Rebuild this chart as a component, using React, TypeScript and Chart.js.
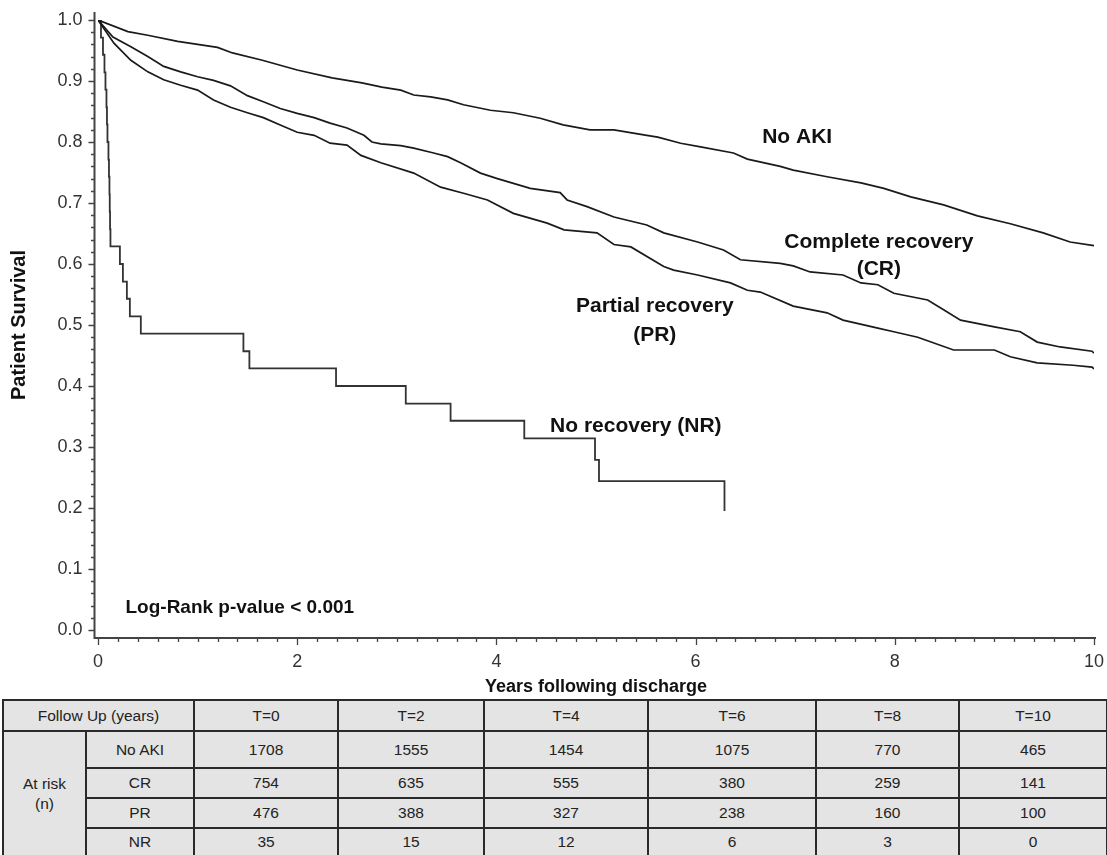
import React, { useEffect, useRef } from 'react';
import { Chart, registerables } from 'chart.js';

Chart.register(...registerables);

// ---------- Data ----------
const NO_AKI_T = [0, 0.3, 0.5, 0.8, 1.2, 1.35, 1.65, 2.0, 2.35, 2.65, 2.85, 3.04, 3.17, 3.34, 3.51, 3.67, 3.94, 4.17, 4.44, 4.67, 4.94, 5.18, 5.51, 5.62, 5.85, 6.05, 6.38, 6.52, 6.85, 6.98, 7.32, 7.66, 7.89, 8.16, 8.49, 8.83, 9.16, 9.49, 9.76, 10.0];
const NO_AKI_S = [1.0, 0.981, 0.975, 0.965, 0.955, 0.946, 0.934, 0.918, 0.905, 0.897, 0.890, 0.885, 0.877, 0.874, 0.869, 0.861, 0.852, 0.848, 0.839, 0.828, 0.820, 0.820, 0.811, 0.808, 0.798, 0.792, 0.782, 0.772, 0.760, 0.754, 0.743, 0.733, 0.724, 0.710, 0.697, 0.679, 0.666, 0.651, 0.636, 0.630];

const CR_T = [0, 0.15, 0.33, 0.5, 0.66, 0.83, 1.0, 1.16, 1.33, 1.5, 1.66, 1.83, 2.0, 2.17, 2.33, 2.5, 2.67, 2.75, 2.84, 3.04, 3.17, 3.37, 3.51, 3.64, 3.84, 4.01, 4.34, 4.64, 4.71, 4.91, 5.18, 5.51, 5.68, 6.02, 6.28, 6.45, 6.85, 6.98, 7.15, 7.48, 7.66, 7.83, 7.99, 8.33, 8.49, 8.66, 9.0, 9.26, 9.43, 9.66, 9.98, 10.0];
const CR_S = [1.0, 0.972, 0.956, 0.940, 0.924, 0.915, 0.907, 0.901, 0.892, 0.876, 0.866, 0.855, 0.847, 0.840, 0.831, 0.823, 0.811, 0.800, 0.797, 0.794, 0.790, 0.782, 0.776, 0.766, 0.749, 0.740, 0.724, 0.717, 0.705, 0.694, 0.677, 0.664, 0.651, 0.636, 0.623, 0.607, 0.601, 0.597, 0.587, 0.582, 0.569, 0.566, 0.552, 0.541, 0.525, 0.508, 0.497, 0.489, 0.472, 0.464, 0.457, 0.454];

const PR_T = [0, 0.16, 0.33, 0.5, 0.66, 0.83, 1.0, 1.16, 1.33, 1.5, 1.66, 1.83, 2.0, 2.17, 2.33, 2.5, 2.64, 2.84, 3.17, 3.44, 3.67, 3.91, 4.17, 4.51, 4.68, 5.01, 5.18, 5.35, 5.68, 5.78, 6.02, 6.35, 6.52, 6.65, 6.98, 7.32, 7.48, 7.83, 7.99, 8.23, 8.59, 9.0, 9.16, 9.43, 9.79, 9.98, 10.0];
const PR_S = [1.0, 0.962, 0.934, 0.915, 0.902, 0.893, 0.885, 0.869, 0.857, 0.848, 0.840, 0.828, 0.816, 0.811, 0.798, 0.795, 0.778, 0.766, 0.749, 0.726, 0.716, 0.705, 0.683, 0.667, 0.656, 0.651, 0.632, 0.628, 0.596, 0.590, 0.582, 0.569, 0.557, 0.554, 0.531, 0.520, 0.508, 0.495, 0.489, 0.480, 0.459, 0.459, 0.448, 0.438, 0.434, 0.431, 0.428];

const NR_T = [0, 0.03, 0.05, 0.065, 0.075, 0.085, 0.09, 0.095, 0.105, 0.11, 0.115, 0.118, 0.121, 0.125, 0.22, 0.25, 0.29, 0.32, 0.43, 1.46, 1.52, 2.39, 3.09, 3.54, 4.28, 4.99, 5.03, 6.29];
const NR_S = [1.0, 0.971, 0.943, 0.914, 0.886, 0.857, 0.829, 0.800, 0.771, 0.743, 0.714, 0.686, 0.657, 0.629, 0.600, 0.571, 0.543, 0.514, 0.486, 0.457, 0.429, 0.400, 0.371, 0.343, 0.314, 0.279, 0.244, 0.195];

const X_TICKS = [0, 2, 4, 6, 8, 10];
const X_TICK_LABELS = ['0', '2', '4', '6', '8', '10'];
const Y_TICKS = [0, 0.1, 0.2, 0.3, 0.4, 0.5, 0.6, 0.7, 0.8, 0.9, 1.0];
const Y_TICK_LABELS = ['0.0', '0.1', '0.2', '0.3', '0.4', '0.5', '0.6', '0.7', '0.8', '0.9', '1.0'];

const X_TITLE = 'Years following discharge';
const Y_TITLE = 'Patient Survival';

// Table
const FOLLOW_UP_HEADER = 'Follow Up (years)';
const FOLLOW_UP_LABELS = ['T=0', 'T=2', 'T=4', 'T=6', 'T=8', 'T=10'];
const GROUPS = ['No AKI', 'CR', 'PR', 'NR'];
const AT_RISK_NO_AKI = [1708, 1555, 1454, 1075, 770, 465];
const AT_RISK_CR = [754, 635, 555, 380, 259, 141];
const AT_RISK_PR = [476, 388, 327, 238, 160, 100];
const AT_RISK_NR = [35, 15, 12, 6, 3, 0];

const FONT = '"Liberation Sans", Arial, Helvetica, sans-serif';

const toPoints = (t: number[], s: number[]) => t.map((x, i) => ({ x, y: s[i] }));

// curve labels, placed in data coordinates
const CURVE_LABELS = [
  { text: 'No AKI', x: 7.02, y: 0.808, align: 'center', size: 21 },
  { text: 'Complete recovery', x: 7.84, y: 0.636, align: 'center', size: 21 },
  { text: '(CR)', x: 7.84, y: 0.592, align: 'center', size: 21 },
  { text: 'Partial recovery', x: 5.59, y: 0.530, align: 'center', size: 21 },
  { text: '(PR)', x: 5.59, y: 0.484, align: 'center', size: 21 },
  { text: 'No recovery (NR)', x: 5.40, y: 0.334, align: 'center', size: 21 },
  { text: 'Log-Rank p-value < 0.001', x: 0.276, y: 0.036, align: 'left', size: 19 },
];

const kmAxesPlugin = {
  id: 'kmAxes',
  afterDraw(chart: any) {
    const { ctx, chartArea, scales } = chart;
    const xs = scales.x;
    const ys = scales.y;
    const axisX = chartArea.left - 3.5;
    const axisY = chartArea.bottom + 8;
    ctx.save();
    // axis lines
    ctx.strokeStyle = '#444';
    ctx.lineWidth = 2;
    ctx.beginPath();
    ctx.moveTo(axisX, chartArea.top - 8);
    ctx.lineTo(axisX, axisY);
    ctx.lineTo(xs.getPixelForValue(10) + 2, axisY);
    ctx.stroke();

    // ticks
    ctx.lineWidth = 1.3;
    ctx.beginPath();
    for (let k = 0; k <= 50; k++) {
      const py = Math.round(ys.getPixelForValue(k * 0.02)) + 0.5;
      const len = k % 5 === 0 ? 6 : 3.5;
      ctx.moveTo(axisX, py);
      ctx.lineTo(axisX - len, py);
    }
    for (let k = 0; k <= 50; k++) {
      const px = Math.round(xs.getPixelForValue(k * 0.2)) + 0.5;
      const len = k % 10 === 0 ? 7 : 4;
      ctx.moveTo(px, axisY);
      ctx.lineTo(px, axisY + len);
    }
    ctx.stroke();

    // tick labels
    ctx.fillStyle = '#333';
    ctx.font = `18px ${FONT}`;
    ctx.textAlign = 'right';
    ctx.textBaseline = 'middle';
    Y_TICKS.forEach((v, i) => {
      ctx.fillText(Y_TICK_LABELS[i], axisX - 12, ys.getPixelForValue(v));
    });
    ctx.textAlign = 'center';
    ctx.textBaseline = 'middle';
    X_TICKS.forEach((v, i) => {
      ctx.fillText(X_TICK_LABELS[i], xs.getPixelForValue(v), axisY + 24);
    });

    // axis titles
    ctx.fillStyle = '#111';
    ctx.font = `bold 18px ${FONT}`;
    ctx.fillText(X_TITLE, (chartArea.left + chartArea.right) / 2, axisY + 49);
    ctx.save();
    ctx.translate(19, (chartArea.top + chartArea.bottom) / 2);
    ctx.rotate(-Math.PI / 2);
    ctx.font = `bold 20px ${FONT}`;
    ctx.fillText(Y_TITLE, 0, 0);
    ctx.restore();

    // curve labels
    CURVE_LABELS.forEach((l) => {
      ctx.font = `bold ${l.size}px ${FONT}`;
      ctx.textAlign = l.align;
      ctx.textBaseline = 'middle';
      ctx.fillText(l.text, xs.getPixelForValue(l.x), ys.getPixelForValue(l.y));
    });
    ctx.restore();
  },
};

const COL_WIDTHS = [83, 108, 144, 146, 164, 168, 143, 148];
const ROW_HEIGHTS = [37, 30, 30, 28];

export default function App() {
  const ref = useRef<HTMLCanvasElement>(null);

  useEffect(() => {
    if (!ref.current) return;
    const line = (t: number[], s: number[], stepped: any, width: number, color: string) => ({
      data: toPoints(t, s),
      borderColor: color,
      borderWidth: width,
      pointRadius: 0,
      fill: false,
      tension: 0,
      stepped,
    });
    const chart = new Chart(ref.current, {
      type: 'line',
      data: {
        datasets: [
          { label: 'No AKI', ...line(NO_AKI_T, NO_AKI_S, false, 1.7, '#1a1a1a') },
          { label: 'CR', ...line(CR_T, CR_S, false, 1.7, '#1a1a1a') },
          { label: 'PR', ...line(PR_T, PR_S, false, 1.7, '#1a1a1a') },
          { label: 'NR', ...line(NR_T, NR_S, 'before', 1.8, '#333') },
        ] as any,
      },
      options: {
        animation: false,
        responsive: false,
        maintainAspectRatio: false,
        layout: { padding: { left: 98, right: 13, top: 20, bottom: 67 } },
        scales: {
          x: { type: 'linear', min: 0, max: 10, display: false },
          y: { type: 'linear', min: 0, max: 1, display: false },
        },
        plugins: {
          legend: { display: false },
          tooltip: { enabled: false },
        },
      } as any,
      plugins: [kmAxesPlugin as any],
    });
    return () => chart.destroy();
  }, []);

  const cell: React.CSSProperties = {
    border: '2px solid #2a2a2a',
    padding: 0,
    textAlign: 'center',
    verticalAlign: 'middle',
    lineHeight: '20px',
  };
  const atRisk = [AT_RISK_NO_AKI, AT_RISK_CR, AT_RISK_PR, AT_RISK_NR];

  return (
    <div style={{ position: 'absolute', left: 0, top: 0, width: 1107, height: 855, background: '#fff', overflow: 'hidden' }}>
      <canvas ref={ref} width={1107} height={697} style={{ position: 'absolute', left: 0, top: 0, width: 1107, height: 697 }} />
      <table
        style={{
          position: 'absolute',
          left: 2,
          top: 699,
          width: 1104,
          borderCollapse: 'collapse',
          tableLayout: 'fixed',
          background: '#e4e4e4',
          fontFamily: FONT,
          fontSize: 15.5,
          color: '#222',
        }}
      >
        <colgroup>
          {COL_WIDTHS.map((w, i) => (
            <col key={i} style={{ width: w }} />
          ))}
        </colgroup>
        <tbody>
          <tr style={{ height: 31 }}>
            <td colSpan={2} style={cell}>{FOLLOW_UP_HEADER}</td>
            {FOLLOW_UP_LABELS.map((l) => (
              <td key={l} style={cell}>{l}</td>
            ))}
          </tr>
          {GROUPS.map((g, i) => (
            <tr key={g} style={{ height: ROW_HEIGHTS[i] }}>
              {i === 0 && (
                <td rowSpan={4} style={cell}>
                  At risk
                  <br />
                  (n)
                </td>
              )}
              <td style={cell}>{g}</td>
              {atRisk[i].map((v, j) => (
                <td key={j} style={cell}>{v}</td>
              ))}
            </tr>
          ))}
        </tbody>
      </table>
    </div>
  );
}
